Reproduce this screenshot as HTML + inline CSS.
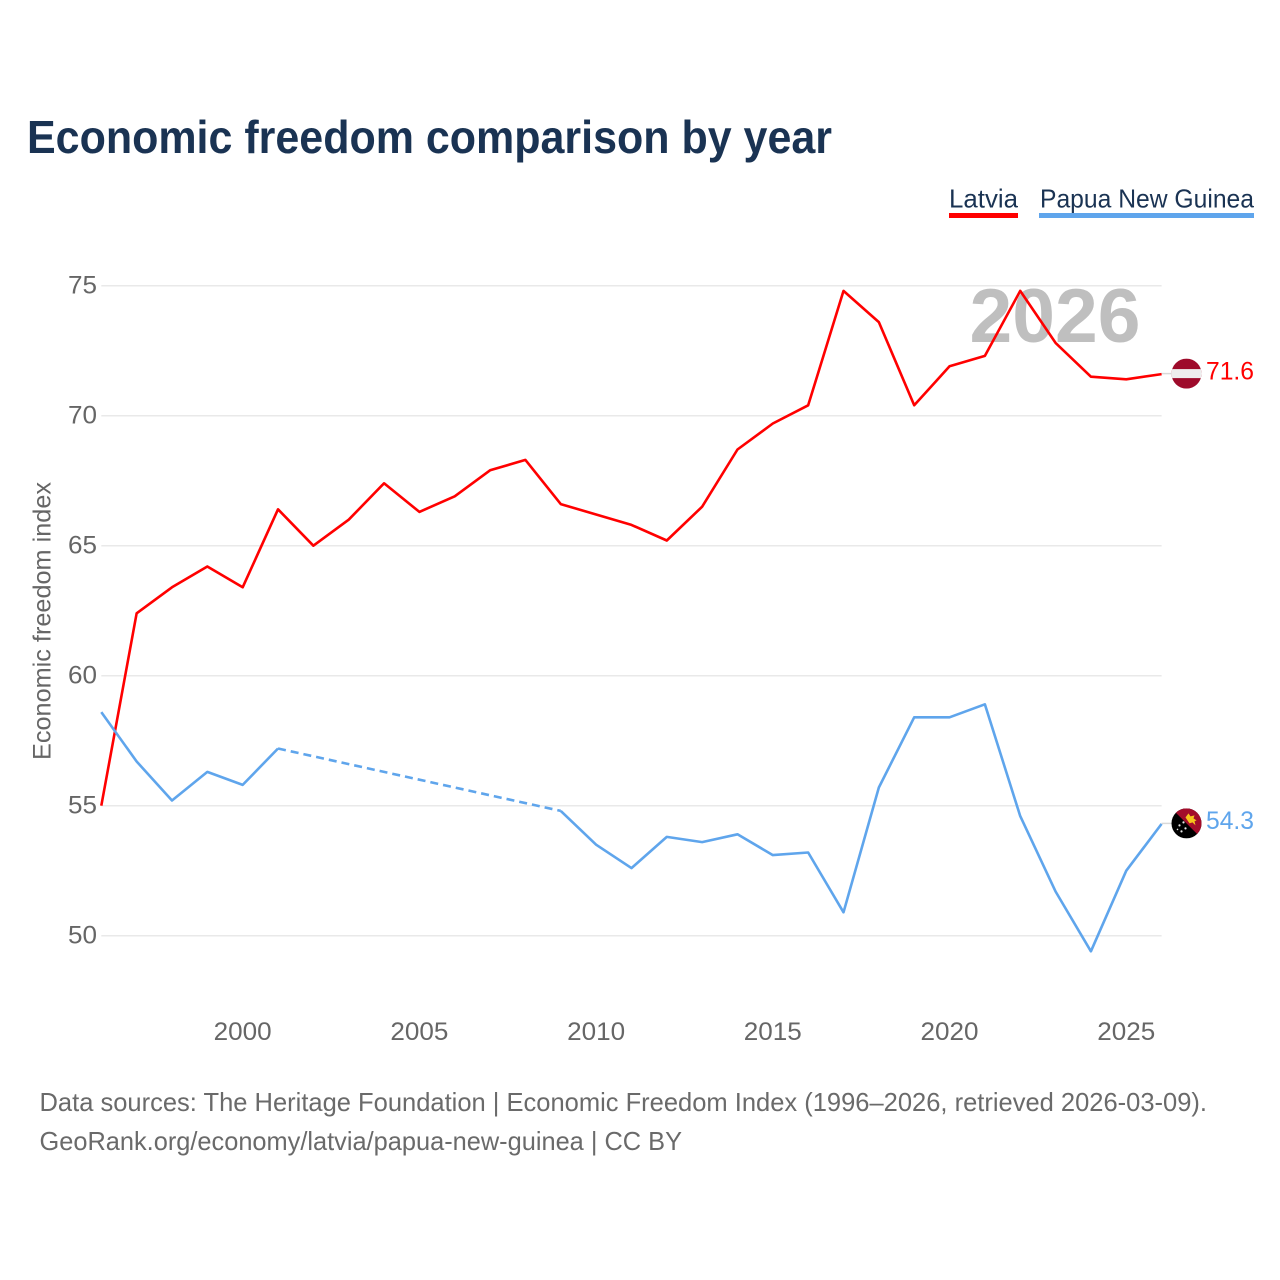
<!DOCTYPE html>
<html lang="en">
<head>
<meta charset="utf-8">
<title>Economic freedom comparison by year</title>
<style>
html,body{margin:0;padding:0;background:#fff}
svg{display:block}
text{font-family:"Liberation Sans",sans-serif}
</style>
</head>
<body>
<svg id="chart" xmlns="http://www.w3.org/2000/svg" width="1280" height="1280" viewBox="0 0 1280 1280">
  <defs>
    <clipPath id="clip-lv"><circle cx="0" cy="0" r="15"/></clipPath>
    <clipPath id="clip-pg"><circle cx="0" cy="0" r="15"/></clipPath>
  </defs>
  <rect width="1280" height="1280" fill="#fff"/>
  <text x="27" y="153" font-size="46" font-weight="700" fill="#1a3353" textLength="805" lengthAdjust="spacingAndGlyphs">Economic freedom comparison by year</text>

  <g>
    <g>
      <text x="949" y="207.5" font-size="26" fill="#1a3353" textLength="69" lengthAdjust="spacingAndGlyphs">Latvia</text>
      <rect x="949" y="213" width="69" height="5" fill="#ff0000"/>
    </g>
    <g>
      <text x="1040" y="207.5" font-size="26" fill="#1a3353" textLength="214" lengthAdjust="spacingAndGlyphs">Papua New Guinea</text>
      <rect x="1039" y="213" width="215" height="5" fill="#5fa5ec"/>
    </g>
  </g>

  <g id="grid"></g>
  <text id="year-watermark" x="1055" y="342" font-size="76" font-weight="700" fill="#bfbfbf" text-anchor="middle" textLength="171" lengthAdjust="spacingAndGlyphs">2026</text>
  <g id="y-ticks"></g>
  <g id="x-ticks"></g>
  <text transform="translate(50.5,760) rotate(-90)" font-size="25" fill="#666666" textLength="278" lengthAdjust="spacingAndGlyphs">Economic freedom index</text>

  <g id="series"></g>

  <g id="end-lv">
    <g clip-path="url(#clip-lv)">
      <rect x="-15" y="-15" width="30" height="30" fill="#9e0b2b"/>
      <rect x="-15" y="-4.5" width="30" height="9" fill="#eeeeee"/>
    </g>
  </g>
  <g id="end-pg">
    <g clip-path="url(#clip-pg)">
      <rect x="-15" y="-15" width="30" height="30" fill="#000"/>
      <polygon points="-15,-15 15,-15 15,15" fill="#a30d2b"/>
      <path d="M-1,-6 L2,-10 L4,-7 L8,-8 L7,-5 L10,-3 L8,-2 L9,2 L6,-1 L3,0 L1,-3 Z" fill="#f6c51c"/>
      <g fill="#e8e8e8">
        <circle cx="-7" cy="2" r="1.1"/><circle cx="-3" cy="-1" r="1.1"/><circle cx="-1" cy="5" r="1.1"/><circle cx="-5" cy="8" r="1.1"/><circle cx="-9" cy="6" r="0.8"/>
      </g>
    </g>
  </g>

  <g font-size="26" fill="#6a6a6a">
    <text x="39.5" y="1111" textLength="1167.5" lengthAdjust="spacingAndGlyphs">Data sources: The Heritage Foundation | Economic Freedom Index (1996–2026, retrieved 2026-03-09).</text>
    <text x="39.5" y="1150" textLength="642.5" lengthAdjust="spacingAndGlyphs">GeoRank.org/economy/latvia/papua-new-guinea | CC BY</text>
  </g>
</svg>
<script>
const years = [1996,1997,1998,1999,2000,2001,2002,2003,2004,2005,2006,2007,2008,2009,2010,2011,2012,2013,2014,2015,2016,2017,2018,2019,2020,2021,2022,2023,2024,2025,2026];
const latvia = [55.0,62.4,63.4,64.2,63.4,66.4,65.0,66.0,67.4,66.3,66.9,67.9,68.3,66.6,66.2,65.8,65.2,66.5,68.7,69.7,70.4,74.8,73.6,70.4,71.9,72.3,74.8,72.8,71.5,71.4,71.6];
const papuaNewGuinea = [58.6,56.7,55.2,56.3,55.8,57.2,null,null,null,null,null,null,null,54.8,53.5,52.6,53.8,53.6,53.9,53.1,53.2,50.9,55.7,58.4,58.4,58.9,54.6,51.7,49.4,52.5,54.3];
const yTickValues = [50,55,60,65,70,75];
const xTickValues = [2000,2005,2010,2015,2020,2025];

const NS = 'http://www.w3.org/2000/svg';
const LATVIA_COLOR = '#ff0000';
const PNG_COLOR = '#5fa5ec';
const xScale = function (year) { return 101.3 + (year - 1996) * (1161.6 - 101.3) / 30; };
const yScale = function (value) { return 935.7 - (value - 50) * 26; };

function make(tag, parent, attrs, text) {
  const el = document.createElementNS(NS, tag);
  Object.keys(attrs).forEach(function (k) { el.setAttribute(k, attrs[k]); });
  if (text !== undefined) el.textContent = text;
  parent.appendChild(el);
  return el;
}

const gridGroup = document.getElementById('grid');
const yGroup = document.getElementById('y-ticks');
yTickValues.forEach(function (v) {
  const line = make('line', gridGroup, {x1: xScale(1996), x2: xScale(2026), y1: yScale(v), y2: yScale(v), stroke: '#e9e9e9', 'stroke-width': 1.5});
  
  
  const label = make('text', yGroup, {x: 97, y: yScale(v) + 8, 'font-size': 25, fill: '#666666', 'text-anchor': 'end', textLength: 29, lengthAdjust: 'spacingAndGlyphs'}, String(v));
  
  
});

const xGroup = document.getElementById('x-ticks');
xTickValues.forEach(function (year) {
  const label = make('text', xGroup, {x: xScale(year), y: 1040, 'font-size': 25, fill: '#666666', 'text-anchor': 'middle', textLength: 58, lengthAdjust: 'spacingAndGlyphs'}, String(year));
  
  
});

function segments(values) {
  const solid = [];
  const gaps = [];
  let current = [];
  let lastPoint = null;
  values.forEach(function (v, i) {
    if (v === null) {
      if (current.length) solid.push(current);
      current = [];
      return;
    }
    const point = [xScale(years[i]), yScale(v)];
    if (!current.length && lastPoint) gaps.push([lastPoint, point]);
    current.push(point);
    lastPoint = point;
  });
  if (current.length) solid.push(current);
  return {solid: solid, gaps: gaps};
}

function toPoints(pts) {
  return pts.map(function (p) { return p[0].toFixed(2) + ',' + p[1].toFixed(2); }).join(' ');
}

const seriesGroup = document.getElementById('series');
function drawSeries(values, color, key) {
  const parts = segments(values);
  parts.gaps.forEach(function (gap) {
    const dashed = make('polyline', seriesGroup, {points: toPoints(gap), fill: 'none', stroke: color, 'stroke-width': 2.6, 'stroke-dasharray': '8 5'});
    
    
  });
  parts.solid.forEach(function (pts) {
    const line = make('polyline', seriesGroup, {points: toPoints(pts), fill: 'none', stroke: color, 'stroke-width': 2.6, 'stroke-linejoin': 'round'});
    
    
  });
  const last = values[values.length - 1];
  const y = yScale(last) - 0.5;
  const connector = make('line', seriesGroup, {x1: xScale(2026), x2: 1172, y1: y, y2: y, stroke: '#d9d9d9', 'stroke-width': 1.5});
  
  
  const value = make('text', document.getElementById('chart'), {x: 1254, y: y + 5.7, 'font-size': 25, fill: color, 'text-anchor': 'end', textLength: 48, lengthAdjust: 'spacingAndGlyphs'}, last.toFixed(1));
  
  
  return y;
}

const lvY = drawSeries(latvia, LATVIA_COLOR, 'latvia');
const pgY = drawSeries(papuaNewGuinea, PNG_COLOR, 'papua-new-guinea');
document.getElementById('end-lv').setAttribute('transform', 'translate(1186.5,' + lvY + ')');
document.getElementById('end-pg').setAttribute('transform', 'translate(1186.5,' + pgY + ')');
</script>
</body>
</html>
